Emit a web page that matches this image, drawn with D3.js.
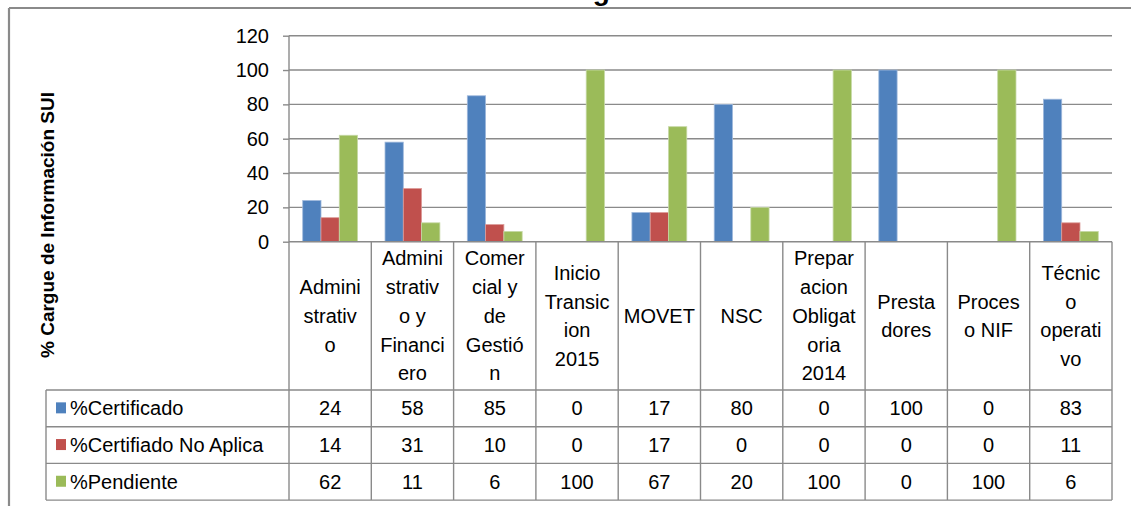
<!DOCTYPE html>
<html>
<head>
<meta charset="utf-8">
<script src="https://cdn.jsdelivr.net/npm/d3@7"></script>
<style>
  html, body { margin: 0; padding: 0; background: #fff; }
  svg { display: block; font-family: "Liberation Sans", Arial, sans-serif; }
</style>
</head>
<body>
<svg id="chart" width="1131" height="506"></svg>
<script>
// Categories (wrapped as they appear in the data table header)
const categories = [
  "Administrativo", "Administrativo y Financiero", "Comercial y de Gestión",
  "Inicio Transicion 2015", "MOVET", "NSC", "Preparacion Obligatoria 2014",
  "Prestadores", "Proceso NIF", "Técnico operativo"
];
const categoryLines = [
  ["Admini", "strativ", "o"],
  ["Admini", "strativ", "o y", "Financi", "ero"],
  ["Comer", "cial y", "de", "Gestió", "n"],
  ["Inicio", "Transic", "ion", "2015"],
  ["MOVET"],
  ["NSC"],
  ["Prepar", "acion", "Obligat", "oria", "2014"],
  ["Presta", "dores"],
  ["Proces", "o NIF"],
  ["Técnic", "o", "operati", "vo"]
];

const seriesNames = ["%Certificado", "%Certifiado No Aplica", "%Pendiente"];
const certificado = [24, 58, 85, 0, 17, 80, 0, 100, 0, 83];
const noAplica    = [14, 31, 10, 0, 17, 0, 0, 0, 0, 11];
const pendiente   = [62, 11, 6, 100, 67, 20, 100, 0, 100, 6];
const seriesValues = [certificado, noAplica, pendiente];

const colors = ["#4F81BD", "#C0504D", "#9BBB59"];
const edgeColors = ["#9fb9dc", "#dc9c9a", "#c6d9a6"];
const yTicks = [0, 20, 40, 60, 80, 100, 120];

const titleText = "Gráfica No. 4 Estado de cargue de Información SUI";
const yTitle = "% Cargue de Información SUI";

const svg = d3.select("#chart");
const lineColor = "#8a8a8a";

// Layout
const plot = { left: 289, right: 1112, top: 35.7, bottom: 241.7 };
const table = { left: 46, top: 390, rowH: 36.7 };
const tableBottom = table.top + table.rowH * 3;

const x = d3.scaleBand().domain(categories).range([plot.left, plot.right]).padding(0);
const xs = d3.scaleBand().domain(seriesNames).range([0, x.bandwidth()])
  .paddingInner(0).paddingOuter(0.75);
const y = d3.scaleLinear().domain([0, 120]).range([plot.bottom, plot.top]);

// Title, sitting above the top edge of the frame
svg.append("text").attr("x", 567).attr("y", 0)
  .attr("text-anchor", "middle").attr("font-weight", "bold").attr("font-size", 28)
  .attr("fill", "#000").text(titleText);

// Chart frame (top and left edges)
svg.append("rect").attr("x", 0).attr("y", 7).attr("width", 1131).attr("height", 499).attr("fill", "#fff");
svg.append("line").attr("x1", 9).attr("x2", 1131).attr("y1", 8).attr("y2", 8)
  .attr("stroke", lineColor).attr("stroke-width", 2.2);
svg.append("line").attr("x1", 9).attr("x2", 9).attr("y1", 8).attr("y2", 506)
  .attr("stroke", lineColor).attr("stroke-width", 2.2);

// Gridlines
svg.append("g").selectAll("line").data(yTicks.filter(d => d > 0)).join("line")
  .attr("x1", plot.left).attr("x2", plot.right)
  .attr("y1", d => y(d)).attr("y2", d => y(d))
  .attr("stroke", lineColor).attr("stroke-width", 1.4);

// Y axis
const yAxis = d3.axisLeft(y).tickValues(yTicks).tickSize(6).tickPadding(14);
const gy = svg.append("g").attr("transform", `translate(${plot.left},0)`).call(yAxis);
gy.select(".domain").remove();
gy.selectAll(".tick line").attr("stroke", lineColor).attr("stroke-width", 1.4);
gy.selectAll(".tick text").attr("font-size", 20).attr("fill", "#000")
  .attr("font-family", "Liberation Sans, Arial, sans-serif");

// Y axis title
svg.append("text")
  .attr("transform", `translate(54,225) rotate(-90)`)
  .attr("text-anchor", "middle").attr("font-weight", "bold").attr("font-size", 19)
  .attr("fill", "#000").text(yTitle);

// Bars
const groups = svg.append("g").selectAll("g").data(categories).join("g")
  .attr("transform", d => `translate(${x(d)},0)`);
groups.selectAll("rect")
  .data((c, i) => seriesNames.map((s, k) => ({ s, k, v: seriesValues[k][i] })))
  .join("rect")
  .filter(d => d.v > 0)
  .attr("x", d => xs(d.s))
  .attr("width", xs.bandwidth())
  .attr("y", d => y(d.v))
  .attr("height", d => y(0) - y(d.v))
  .attr("fill", d => colors[d.k])
  .attr("stroke", d => edgeColors[d.k]).attr("stroke-width", 0.8);

// Data table: horizontal lines
const hLines = [
  { x1: plot.left, x2: plot.right, y: plot.bottom },
  { x1: table.left, x2: plot.right, y: table.top },
  { x1: table.left, x2: plot.right, y: table.top + table.rowH },
  { x1: table.left, x2: plot.right, y: table.top + table.rowH * 2 },
  { x1: table.left, x2: plot.right, y: tableBottom }
];
svg.append("g").selectAll("line").data(hLines).join("line")
  .attr("x1", d => d.x1).attr("x2", d => d.x2).attr("y1", d => d.y).attr("y2", d => d.y)
  .attr("stroke", lineColor).attr("stroke-width", 1.4);

// Vertical lines: value axis, category separators, table left edge
const vx = categories.map(c => x(c)).concat([plot.right]);
svg.append("line").attr("x1", plot.left).attr("x2", plot.left)
  .attr("y1", plot.top).attr("y2", tableBottom)
  .attr("stroke", lineColor).attr("stroke-width", 1.4);
svg.append("g").selectAll("line").data(vx.slice(1)).join("line")
  .attr("x1", d => d).attr("x2", d => d).attr("y1", plot.bottom).attr("y2", tableBottom)
  .attr("stroke", lineColor).attr("stroke-width", 1.4);
svg.append("line").attr("x1", table.left).attr("x2", table.left)
  .attr("y1", table.top).attr("y2", tableBottom)
  .attr("stroke", lineColor).attr("stroke-width", 1.4);

// Category labels
const lineH = 28.7;
const headMid = (plot.bottom + table.top) / 2;
svg.append("g").selectAll("text").data(categories).join("text")
  .attr("text-anchor", "middle").attr("font-size", 20).attr("fill", "#000")
  .attr("x", d => x(d) + x.bandwidth() / 2)
  .each(function (d, i) {
    const lines = categoryLines[i];
    const y0 = headMid - (lines.length - 1) * lineH / 2;
    d3.select(this).selectAll("tspan").data(lines).join("tspan")
      .attr("x", x(d) + x.bandwidth() / 2)
      .attr("y", (l, j) => y0 + j * lineH)
      .attr("dy", "0.35em")
      .text(l => l);
  });

// Legend keys and series names in the table
const rowMid = k => table.top + table.rowH * (k + 0.5);
const legend = svg.append("g").selectAll("g").data(seriesNames).join("g");
legend.append("rect")
  .attr("x", 56).attr("y", (d, k) => rowMid(k) - 6)
  .attr("width", 10).attr("height", 11)
  .attr("fill", (d, k) => colors[k]);
legend.append("text")
  .attr("x", 70).attr("y", (d, k) => rowMid(k)).attr("dy", "0.35em")
  .attr("font-size", 20).attr("fill", "#000").text(d => d);

// Table values
seriesValues.forEach((vals, k) => {
  svg.append("g").selectAll("text").data(vals).join("text")
    .attr("x", (v, i) => x(categories[i]) + x.bandwidth() / 2)
    .attr("y", rowMid(k)).attr("dy", "0.35em")
    .attr("text-anchor", "middle").attr("font-size", 20).attr("fill", "#000")
    .text(v => v);
});
</script>
</body>
</html>
